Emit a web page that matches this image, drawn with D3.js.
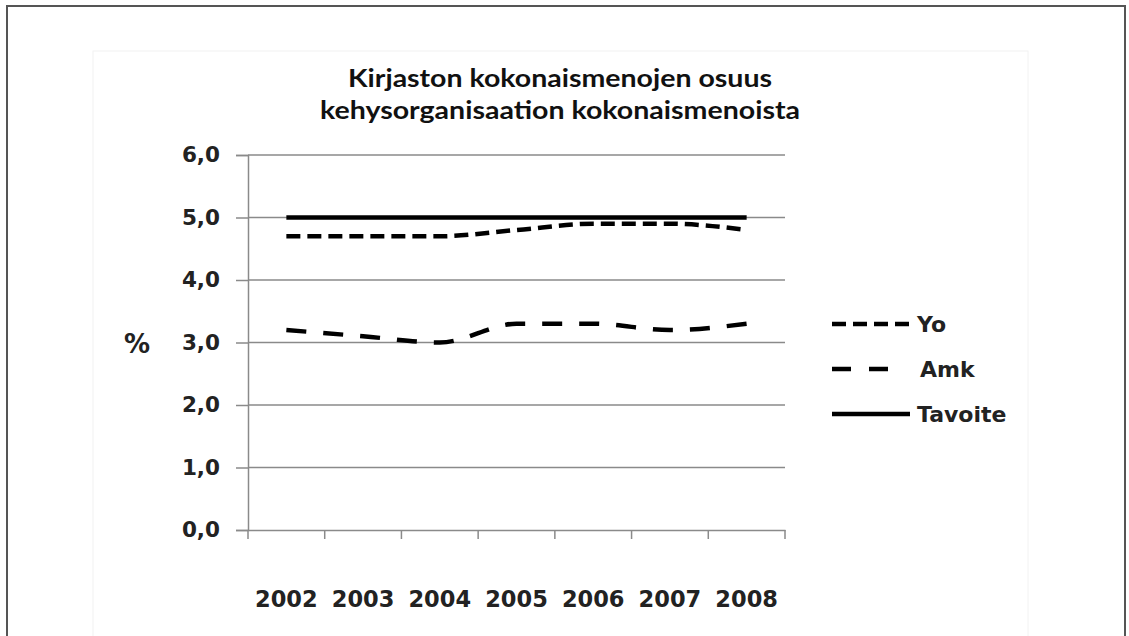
<!DOCTYPE html>
<html>
<head>
<meta charset="utf-8">
<script src="https://cdn.jsdelivr.net/npm/d3@7"></script>
<style>
  html, body { margin: 0; padding: 0; background: #fff; }
  svg { display: block; }
</style>
</head>
<body>
<svg id="chart" width="1129" height="636"></svg>
<script>
const years = ["2002", "2003", "2004", "2005", "2006", "2007", "2008"];
const yoValues = [4.7, 4.7, 4.7, 4.8, 4.9, 4.9, 4.8];
const amkValues = [3.2, 3.1, 3.0, 3.3, 3.3, 3.2, 3.3];
const tavoiteValues = [5.0, 5.0, 5.0, 5.0, 5.0, 5.0, 5.0];
const yTicks = [0, 1, 2, 3, 4, 5, 6];
const titleLines = ["Kirjaston kokonaismenojen osuus", "kehysorganisaation kokonaismenoista"];
const yAxisLabel = "%";
const seriesNames = ["Yo", "Amk", "Tavoite"];

(function () {
const svg = d3.select("#chart");

// outer frame
svg.append("rect").attr("x", 7).attr("y", 6).attr("width", 1118).attr("height", 650)
  .attr("fill", "#fff").attr("stroke", "#555").attr("stroke-width", 2);
// faint chart area
svg.append("rect").attr("x", 93).attr("y", 51).attr("width", 935).attr("height", 620)
  .attr("fill", "none").attr("stroke", "#f2f2f2").attr("stroke-width", 1);

const pLeft = 248, pRight = 785, pTop = 155, pBottom = 530;
const x = d3.scaleBand().domain(years).range([pLeft, pRight]).padding(0);
const y = d3.scaleLinear().domain([0, 6]).range([pBottom, pTop]);
const cx = d => x(d) + x.bandwidth() / 2;

// gridlines
svg.append("g").selectAll("line").data(yTicks.filter(t => t > 0)).join("line")
  .attr("x1", pLeft).attr("x2", pRight)
  .attr("y1", d => y(d)).attr("y2", d => y(d))
  .attr("stroke", "#8a8a8a").attr("stroke-width", 1.5);

// y axis
const yAxis = svg.append("g").attr("transform", `translate(${pLeft},0)`)
  .call(d3.axisLeft(y).tickValues(yTicks).tickSize(12).tickPadding(16)
    .tickFormat(d => d3.format(".1f")(d).replace(".", ",")));
yAxis.select(".domain").attr("stroke", "#8a8a8a").attr("stroke-width", 1.5);
yAxis.selectAll(".tick line").attr("stroke", "#8a8a8a").attr("stroke-width", 1.5);
yAxis.selectAll(".tick text").attr("font-family", "DejaVu Sans").attr("font-weight", "bold")
  .attr("font-size", 21.5).attr("fill", "#222");

// x axis
const xAxis = svg.append("g").attr("transform", `translate(0,${pBottom})`)
  .call(d3.axisBottom(x).tickValues([]).tickSize(0));
xAxis.select(".domain").attr("stroke", "#8a8a8a").attr("stroke-width", 1.5);
const edges = years.map(d => x(d)).concat([pRight]);
svg.append("g").selectAll("line").data(edges).join("line")
  .attr("x1", d => d).attr("x2", d => d).attr("y1", pBottom).attr("y2", pBottom + 9)
  .attr("stroke", "#8a8a8a").attr("stroke-width", 1.5);
svg.append("g").selectAll("text").data(years).join("text")
  .attr("x", d => cx(d)).attr("y", 607).attr("text-anchor", "middle")
  .attr("font-family", "DejaVu Sans").attr("font-weight", "bold").attr("font-size", 22.5)
  .attr("fill", "#222").text(d => d);

// y label
svg.append("text").attr("x", 137).attr("y", 353).attr("text-anchor", "middle")
  .attr("font-family", "DejaVu Sans").attr("font-weight", "bold").attr("font-size", 26)
  .attr("fill", "#222").text(yAxisLabel);

// title
const titleY = [87, 119];
const titleW = [424, 480];
svg.append("g").selectAll("text").data(titleLines).join("text")
  .attr("x", 560).attr("y", (d, i) => titleY[i]).attr("text-anchor", "middle")
  .attr("font-family", "Lato").attr("font-weight", "bold").attr("font-size", 24)
  .attr("textLength", (d, i) => titleW[i]).attr("lengthAdjust", "spacingAndGlyphs")
  .attr("fill", "#111").text(d => d);

// lines
const line = d3.line().x((d, i) => cx(years[i])).y(d => y(d)).curve(d3.curveMonotoneX);
const styles = {
  Yo: { dash: "14,7", width: 4.5 },
  Amk: { dash: "20,17", width: 4.5 },
  Tavoite: { dash: null, width: 4.5 }
};
const seriesData = [yoValues, amkValues, tavoiteValues];

svg.append("g").selectAll("path").data(seriesData).join("path")
  .attr("d", d => line(d))
  .attr("fill", "none").attr("stroke", "#000")
  .attr("stroke-width", (d, i) => styles[seriesNames[i]].width)
  .attr("stroke-dasharray", (d, i) => styles[seriesNames[i]].dash);

// legend
const legY = [324, 369, 414];
const legLen = [78, 58, 78];
const legTextX = [917, 920, 917];
const leg = svg.append("g");
seriesNames.forEach((name, i) => {
  leg.append("line").attr("x1", 832).attr("x2", 832 + legLen[i])
    .attr("y1", legY[i]).attr("y2", legY[i])
    .attr("stroke", "#000").attr("stroke-width", styles[name].width)
    .attr("stroke-dasharray", name === "Amk" ? "19,18" : styles[name].dash);
  leg.append("text").attr("x", legTextX[i]).attr("y", legY[i] + 8)
    .attr("font-family", "DejaVu Sans").attr("font-weight", "bold").attr("font-size", 22)
    .attr("fill", "#222").text(name);
});
})();
</script>
</body>
</html>
